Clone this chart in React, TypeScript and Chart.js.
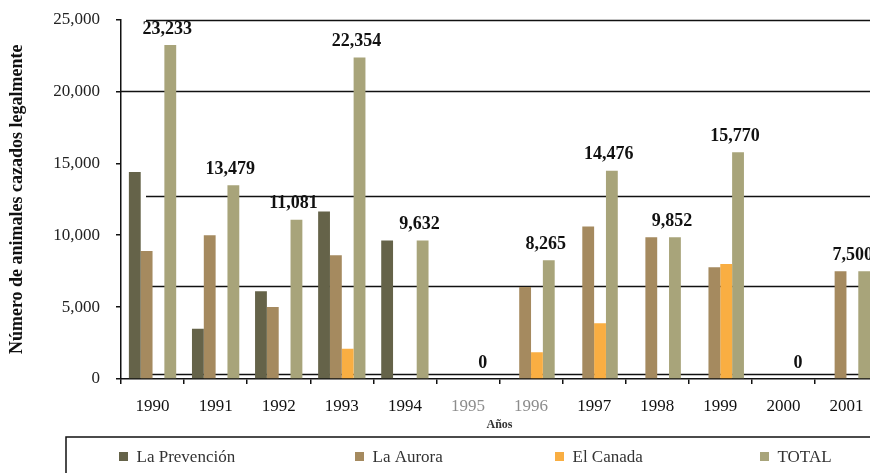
import { useEffect, useRef } from "react";
import { Chart, registerables } from "chart.js";

Chart.register(...registerables);

const years = ["1990", "1991", "1992", "1993", "1994", "1995", "1996", "1997", "1998", "1999", "2000", "2001"];
const laPrevencion = [14400, 3500, 6100, 11650, 9632, 0, 0, 0, 0, 0, 0, 0];
const laAurora = [8900, 10000, 5000, 8600, 0, 0, 6400, 10600, 9852, 7770, 0, 7500];
const elCanada = [0, 0, 0, 2104, 0, 0, 1865, 3876, 0, 8000, 0, 0];
const total = [23233, 13479, 11081, 22354, 9632, 0, 8265, 14476, 9852, 15770, 0, 7500];
const seriesNames = ["La Prevención", "La Aurora", "El Canada", "TOTAL"];
const seriesColors = ["#656349", "#a58a5f", "#f9ae42", "#a8a47a"];
const refLineValues = [25000, 20000, 12750, 6450, 350];
const yMax = 25000;
const yStep = 5000;

const SERIF = "'Liberation Serif', 'Times New Roman', serif";
const fmt = (v: number) => v.toLocaleString("en-US");

const refLinesPlugin = {
  id: "refLines",
  beforeDatasetsDraw(chart: any) {
    const { ctx, chartArea, scales } = chart;
    ctx.save();
    ctx.strokeStyle = "#111";
    ctx.lineWidth = 1.5;
    refLineValues.forEach((v, i) => {
      const y = Math.round(scales.y.getPixelForValue(v)) + 0.5;
      const startX = i === 1 ? chartArea.left : chartArea.left + 25;
      ctx.beginPath();
      ctx.moveTo(startX, y);
      ctx.lineTo(chart.width, y);
      ctx.stroke();
    });
    ctx.restore();
  },
};

const totalLabelsPlugin = {
  id: "totalLabels",
  afterDatasetsDraw(chart: any) {
    const { ctx, chartArea } = chart;
    const meta = chart.getDatasetMeta(3);
    ctx.save();
    ctx.font = `bold 18px ${SERIF}`;
    ctx.fillStyle = "#111";
    ctx.textAlign = "center";
    ctx.textBaseline = "middle";
    meta.data.forEach((bar: any, i: number) => {
      const text = fmt(total[i]);
      const w = ctx.measureText(text).width;
      let x = bar.x - 3;
      if (x + w / 2 > chartArea.right - 5) x = chartArea.right - 5 - w / 2;
      ctx.fillText(text, x, bar.y - 16);
    });
    ctx.restore();
  },
};

const legendPlugin = {
  id: "boxLegend",
  afterDraw(chart: any) {
    const { ctx } = chart;
    ctx.save();
    ctx.strokeStyle = "#111";
    ctx.lineWidth = 1.5;
    ctx.beginPath();
    ctx.moveTo(66, chart.height + 2);
    ctx.lineTo(66, 437);
    ctx.lineTo(chart.width + 2, 437);
    ctx.stroke();
    const starts = [119, 355, 555, 760];
    ctx.font = `17px ${SERIF}`;
    ctx.textBaseline = "middle";
    ctx.textAlign = "left";
    seriesNames.forEach((name, i) => {
      ctx.fillStyle = seriesColors[i];
      ctx.fillRect(starts[i], 452, 9, 9);
      ctx.fillStyle = "#333";
      ctx.fillText(name, starts[i] + 17.5, 457.5);
    });
    ctx.restore();
  },
};

export default function App() {
  const ref = useRef<HTMLCanvasElement | null>(null);

  useEffect(() => {
    document.body.style.margin = "0";
    const canvas = ref.current;
    if (!canvas) return;
    const chart = new Chart(canvas, {
      type: "bar",
      data: {
        labels: years,
        datasets: [laPrevencion, laAurora, elCanada, total].map((d, i) => ({
          label: seriesNames[i],
          data: d,
          backgroundColor: seriesColors[i],
          borderWidth: 0,
          categoryPercentage: 0.75,
          barPercentage: 1,
        })),
      },
      options: {
        responsive: false,
        animation: false,
        devicePixelRatio: 1,
        layout: { padding: { top: 19.5, right: 12, bottom: 0, left: 0 } },
        plugins: {
          legend: { display: false },
          tooltip: { enabled: false },
        },
        scales: {
          x: {
            offset: true,
            grid: {
              display: true,
              drawOnChartArea: false,
              drawTicks: true,
              tickLength: 5,
              color: "#111",
              lineWidth: 1.5,
            },
            border: { display: true, color: "#111", width: 1.5 },
            ticks: {
              padding: 12,
              font: { family: SERIF, size: 17 },
              color: (c: any) => (c.index === 5 || c.index === 6 ? "#8c8c8c" : "#111"),
            },
            title: {
              display: true,
              text: "Años",
              font: { family: SERIF, size: 12, weight: "bold" },
              color: "#333",
              padding: { top: 0, bottom: 41 },
            },
            afterFit: (s: any) => {
              s.height = 94;
              s.paddingLeft = 0;
              s.paddingRight = 0;
            },
          },
          y: {
            min: 0,
            max: yMax,
            grid: {
              display: true,
              drawOnChartArea: false,
              drawTicks: true,
              tickLength: 5,
              color: "#111",
              lineWidth: 1.5,
            },
            border: { display: true, color: "#111", width: 1.5 },
            ticks: {
              stepSize: yStep,
              padding: 16,
              font: { family: SERIF, size: 17 },
              color: "#222",
              callback: (v: any) => fmt(Number(v)),
            },
            title: {
              display: true,
              text: "Número de animales cazados legalmente",
              font: { family: SERIF, size: 18, weight: "bold" },
              color: "#111",
              padding: { top: 7, bottom: 0 },
            },
            afterFit: (s: any) => {
              s.width = 121;
              s.paddingTop = 0;
              s.paddingBottom = 0;
            },
          },
        },
      },
      plugins: [refLinesPlugin, totalLabelsPlugin, legendPlugin],
    });
    return () => chart.destroy();
  }, []);

  return (
    <div style={{ position: "relative", width: 870, height: 473, overflow: "hidden" }}>
      <canvas ref={ref} width={890} height={473} style={{ width: 890, height: 473, display: "block" }} />
    </div>
  );
}
